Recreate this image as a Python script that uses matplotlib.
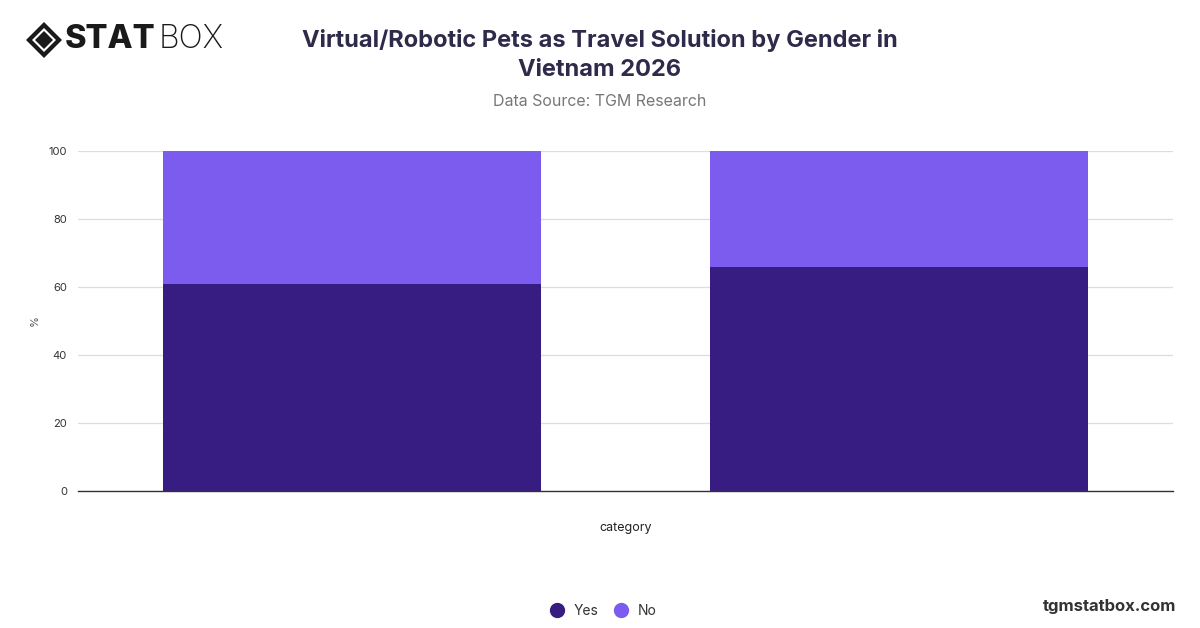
import matplotlib
matplotlib.use("Agg")
import matplotlib.pyplot as plt
from matplotlib.patches import Polygon
from matplotlib.lines import Line2D

categories = ["Male", "Female"]
yes_values = [61, 66]
no_values = [39, 34]
series_names = ["Yes", "No"]
colors = ["#371C82", "#7B5CEE"]
yticks = [0, 20, 40, 60, 80, 100]

plt.rcParams['font.family'] = ['Inter', 'DejaVu Sans']

fig = plt.figure(figsize=(12, 6.28), dpi=100)
ax = fig.add_axes([0.065, 0.218, 0.9125, 0.5416])

x = list(range(len(categories)))
ax.bar(x, yes_values, width=0.69, color=colors[0], label=series_names[0], zorder=3)
ax.bar(x, no_values, width=0.69, bottom=yes_values, color=colors[1], label=series_names[1], zorder=3)

ax.set_xlim(-0.5, len(categories) - 0.5)
ax.set_ylim(0, 100)
ax.set_yticks(yticks)
ax.set_yticklabels([str(t) for t in yticks], fontsize=8, color="#333333")
ax.set_xticks([])
ax.tick_params(axis='y', length=0, pad=8)
ax.grid(axis='y', color="#dddddd", linewidth=0.9, zorder=0)
for s in ["top", "right", "left"]:
    ax.spines[s].set_visible(False)
ax.spines["bottom"].set_color("#333333")
ax.spines["bottom"].set_linewidth(1.0)
ax.spines["bottom"].set_zorder(4)
ax.set_ylabel("%", fontsize=8, color="#555555", labelpad=6)
ax.set_xlabel("category", fontsize=9, color="#222222", labelpad=22)

# Title
fig.text(0.5, 0.935, "Virtual/Robotic Pets as Travel Solution by Gender in", ha="center", va="center",
         fontsize=17, fontweight="bold", color="#2E2A4A")
fig.text(0.5, 0.888, "Vietnam 2026", ha="center", va="center",
         fontsize=17, fontweight="bold", color="#2E2A4A")
fig.text(0.5, 0.838, "Data Source: TGM Research", ha="center", va="center",
         fontsize=11.5, color="#777777")

# Legend
handles = [Line2D([0], [0], marker='o', linestyle='', markersize=10, markerfacecolor=c, markeredgecolor=c)
           for c in colors]
fig.legend(handles, series_names, loc="center", bbox_to_anchor=(0.5, 0.027), ncol=2, frameon=False,
           fontsize=10, handletextpad=0.2, columnspacing=0.6, labelcolor="#333333")

# Watermark
fig.text(0.98, 0.035, "tgmstatbox.com", ha="right", va="center", fontsize=12, fontweight="bold", color="#333333")

# Logo
cx, cy = 44 / 1200, 1 - 40 / 628
w, h = 18 / 1200, 18 / 628
outer = Polygon([[cx - w, cy], [cx, cy + h], [cx + w, cy], [cx, cy - h]], closed=True,
                transform=fig.transFigure, facecolor="#1a1a1a", edgecolor="none")
fig.patches.append(outer)
w2, h2 = 12 / 1200, 12 / 628
mid = Polygon([[cx - w2, cy], [cx, cy + h2], [cx + w2, cy], [cx, cy - h2]], closed=True,
              transform=fig.transFigure, facecolor="white", edgecolor="none")
fig.patches.append(mid)
w3, h3 = 9 / 1200, 9 / 628
inner = Polygon([[cx - w3, cy], [cx, cy + h3], [cx + w3, cy], [cx, cy - h3]], closed=True,
                transform=fig.transFigure, facecolor="#1a1a1a", edgecolor="none")
fig.patches.append(inner)
fig.text(65 / 1200, cy, "STAT", ha="left", va="center", fontsize=23.5, fontweight="heavy",
         color="#1a1a1a")
fig.text(159 / 1200, cy, "BOX", ha="left", va="center", fontsize=23, fontweight="light",
         color="#1a1a1a")

fig.savefig("out.png", dpi=100, facecolor="white")
